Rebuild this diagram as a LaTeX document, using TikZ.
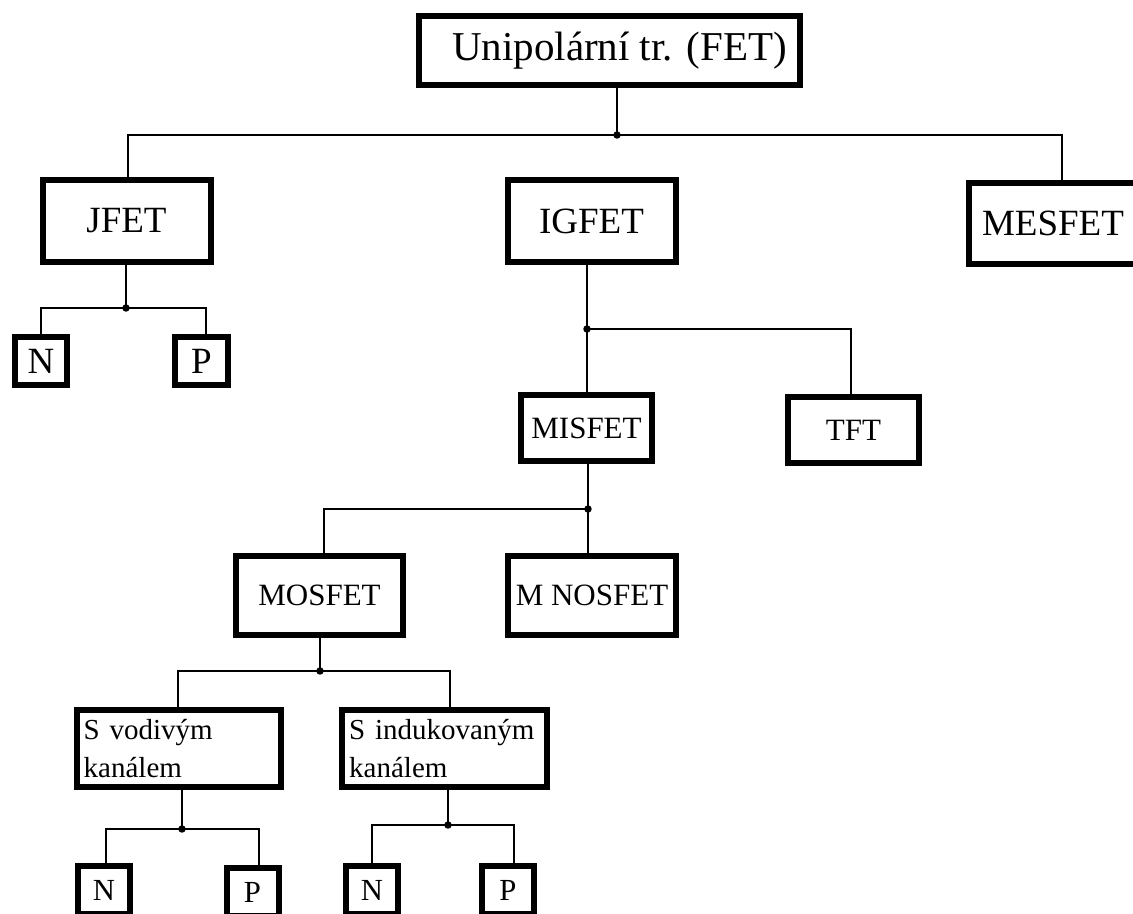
\documentclass[tikz,border=0pt]{standalone}
\usepackage{fontspec}
\setmainfont{Liberation Serif}
\begin{document}
\begin{tikzpicture}[x=0.75pt,y=-0.75pt,
  box/.style={draw,line width=4.5pt,inner sep=0pt,align=center},
  topbox/.style={box,minimum width=285.75pt,minimum height=51.75pt,font=\fontsize{30.75}{36}\selectfont},
  bigbox/.style={box,minimum width=126pt,minimum height=61pt,font=\fontsize{27.75}{33}\selectfont},
  midbox/.style={box,minimum width=98.25pt,minimum height=49.5pt,font=\fontsize{23.25}{28}\selectfont},
  modbox/.style={box,minimum width=125.6pt,minimum height=59.25pt,font=\fontsize{23.25}{28}\selectfont},
  chanbox/.style={box,minimum width=153.4pt,minimum height=57.75pt,inner xsep=5.25pt,
    text width=142.9pt,align=left,font=\fontsize{21.75}{28.5}\selectfont},
  leafbig/.style={box,minimum width=39.4pt,minimum height=36pt,font=\fontsize{27.75}{33}\selectfont},
  leafsmall/.style={box,minimum width=39pt,minimum height=36pt,font=\fontsize{23}{28}\selectfont},
  conn/.style={line width=1.5pt},
  dot/.style={fill=black}]
\useasboundingbox (0,0) rectangle (1133,914);
\clip (0,0) rectangle (1133,914);
\fill[white] (0,0) rectangle (1133,914);

% boxes
\node[topbox] (top) at (609.5,50.5) {\hspace*{15pt}Unipolární tr. (FET)};
\node[bigbox] (jfet) at (126.5,221) {JFET};
\node[bigbox] (igfet) at (591.5,221) {IGFET};
\node[bigbox] (mesfet) at (1053,223.5) {MESFET};
\node[leafbig] (n1) at (41,361) {N};
\node[leafbig] (p1) at (201.5,361) {P};
\node[midbox] (misfet) at (586.5,428) {MISFET};
\node[midbox] (tft) at (853.5,430) {TFT};
\node[modbox] (mos) at (319.5,595.5) {MOSFET};
\node[modbox] (mnos) at (592,595.5) {M NOSFET};
\node[chanbox] (sv) at (179,748.5) {S vodivým\\kanálem};
\node[chanbox] (si) at (444.5,748.5) {S indukovaným\\kanálem};
\node[leafsmall] (n2) at (104,890) {N};
\node[leafsmall] (p2) at (252.5,892) {P};
\node[leafsmall] (n3) at (372,890) {N};
\node[leafsmall] (p3) at (508,890) {P};

% junctions and elbows
\coordinate (jT) at (617,135);
\coordinate (eA) at (128,135);
\coordinate (eB) at (1062,135);
\coordinate (jJ) at (126,308);
\coordinate (eC) at (41,308);
\coordinate (eD) at (206,308);
\coordinate (jI) at (587,329);
\coordinate (eE) at (851,329);
\coordinate (jM) at (588,509);
\coordinate (eF) at (324,509);
\coordinate (jO) at (320,671);
\coordinate (eG) at (178,671);
\coordinate (eH) at (450,671);
\coordinate (jV) at (182,829);
\coordinate (eI) at (106,829);
\coordinate (eJ) at (259,829);
\coordinate (jS) at (448,825);
\coordinate (eK) at (372,825);
\coordinate (eL) at (514,825);

% connectors
\draw[conn] (top.south -| jT) -- (jT);
\draw[conn] (jfet.north -| eA) -- (eA) -- (eB) -- (mesfet.north -| eB);

\draw[conn] (jfet.south -| jJ) -- (jJ);
\draw[conn] (n1.north -| eC) -- (eC) -- (eD) -- (p1.north -| eD);

\draw[conn] (igfet.south -| jI) -- (misfet.north -| jI);
\draw[conn] (jI) -- (eE) -- (tft.north -| eE);

\draw[conn] (misfet.south -| jM) -- (mnos.north -| jM);
\draw[conn] (jM) -- (eF) -- (mos.north -| eF);

\draw[conn] (mos.south -| jO) -- (jO);
\draw[conn] (sv.north -| eG) -- (eG) -- (eH) -- (si.north -| eH);

\draw[conn] (sv.south -| jV) -- (jV);
\draw[conn] (n2.north -| eI) -- (eI) -- (eJ) -- (p2.north -| eJ);

\draw[conn] (si.south -| jS) -- (jS);
\draw[conn] (n3.north -| eK) -- (eK) -- (eL) -- (p3.north -| eL);

% junction dots
\foreach \j in {jT,jJ,jI,jM,jO,jV,jS}
  \fill[dot] (\j) circle[radius=2.8pt];
\end{tikzpicture}
\end{document}
